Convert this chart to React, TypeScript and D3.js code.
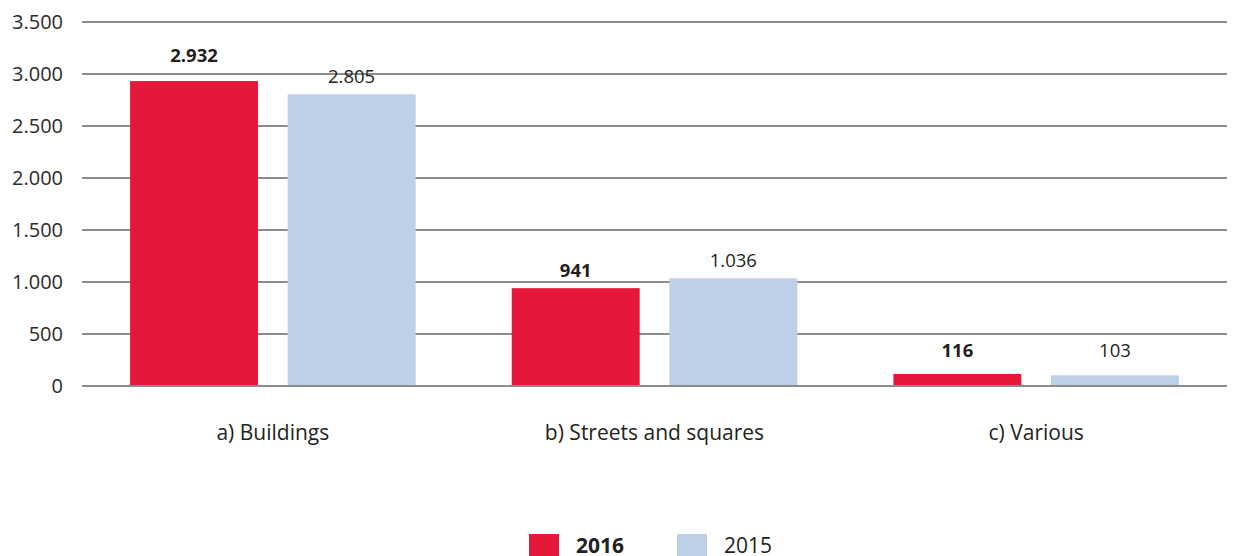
import React from 'react';
import * as d3 from 'd3';

const categories = ['a) Buildings', 'b) Streets and squares', 'c) Various'];
const seriesNames = ['2016', '2015'];
const values2016 = [2932, 941, 116];
const values2015 = [2805, 1036, 103];
const yTicks = [0, 500, 1000, 1500, 2000, 2500, 3000, 3500];

const colors: Record<string, string> = { '2016': '#e4193a', '2015': '#bdd0e8' };

const App: React.FC = () => {
    const width = 1237;
    const height = 556;
    const margin = { top: 22, left: 82 };
    const plotRight = 1227;
    const plotBottom = 386;

    const fmt = (v: number) => d3.format(',')(v).replace(/,/g, '.');

    // Scales
    const x0 = d3.scaleBand<string>().domain(categories).range([margin.left, plotRight]).padding(0);
    const x1 = d3
        .scaleBand<string>()
        .domain(seriesNames)
        .range([0, x0.bandwidth()])
        .paddingInner(0.188)
        .paddingOuter(0.305);
    const y = d3.scaleLinear().domain([0, 3500]).range([plotBottom, margin.top]);

    const rows = categories.map((c, i) => ({
        category: c,
        bars: [
            { series: '2016', value: values2016[i] },
            { series: '2015', value: values2015[i] },
        ],
    }));

    const font = '"Open Sans", "Noto Sans", sans-serif';

    // label baseline: just above the bar, but not lower than a floor near the axis
    const labelY = (value: number, series: string) => {
        const top = y(value);
        let base = Math.min(top - 11, y(0) - 29);
        // lift a bold label that would sit too close to the taller neighbour's grid line
        if (series === '2016' && value > 2900) base = top - 19;
        return base;
    };

    return (
        <div style={{ position: 'absolute', left: 0, top: 0 }}>
            <svg width={width} height={height} style={{ display: 'block' }} fontFamily={font}>
                <rect width={width} height={height} fill="#ffffff" />
                {/* grid + y labels */}
                {yTicks.map((t) => (
                    <g key={t}>
                        <line
                            x1={margin.left}
                            x2={plotRight}
                            y1={y(t)}
                            y2={y(t)}
                            stroke="#8c8c8e"
                            strokeWidth={2}
                        />
                        <text
                            x={63}
                            y={y(t)}
                            dy="0.36em"
                            textAnchor="end"
                            fontSize={20}
                            fill="#2b2b2b"
                        >
                            {fmt(t)}
                        </text>
                    </g>
                ))}
                {/* bars */}
                {rows.map((r) => (
                    <g key={r.category} transform={`translate(${x0(r.category)},0)`}>
                        {r.bars.map((b) => {
                            const top = y(b.value);
                            return (
                                <g key={b.series}>
                                    <rect
                                        x={x1(b.series)}
                                        y={top}
                                        width={x1.bandwidth()}
                                        height={y(0) - top - 1}
                                        fill={colors[b.series]}
                                    />
                                    <text
                                        x={(x1(b.series) as number) + x1.bandwidth() / 2}
                                        y={labelY(b.value, b.series)}
                                        textAnchor="middle"
                                        fontSize={18.5}
                                        fontWeight={b.series === '2016' ? 700 : 400}
                                        fill="#231f20"
                                    >
                                        {fmt(b.value)}
                                    </text>
                                </g>
                            );
                        })}
                        <text
                            x={x0.bandwidth() / 2}
                            y={440}
                            textAnchor="middle"
                            fontSize={21}
                            fill="#231f20"
                        >
                            {r.category}
                        </text>
                    </g>
                ))}
                {/* legend */}
                {seriesNames.map((s, i) => (
                    <g key={s} transform={`translate(${529 + i * 148},534)`}>
                        <rect width={30} height={30} fill={colors[s]} />
                        <text
                            x={47}
                            y={19}
                            fontSize={21}
                            fontWeight={s === '2016' ? 700 : 400}
                            fill="#231f20"
                        >
                            {s}
                        </text>
                    </g>
                ))}
            </svg>
        </div>
    );
};

export default App;
